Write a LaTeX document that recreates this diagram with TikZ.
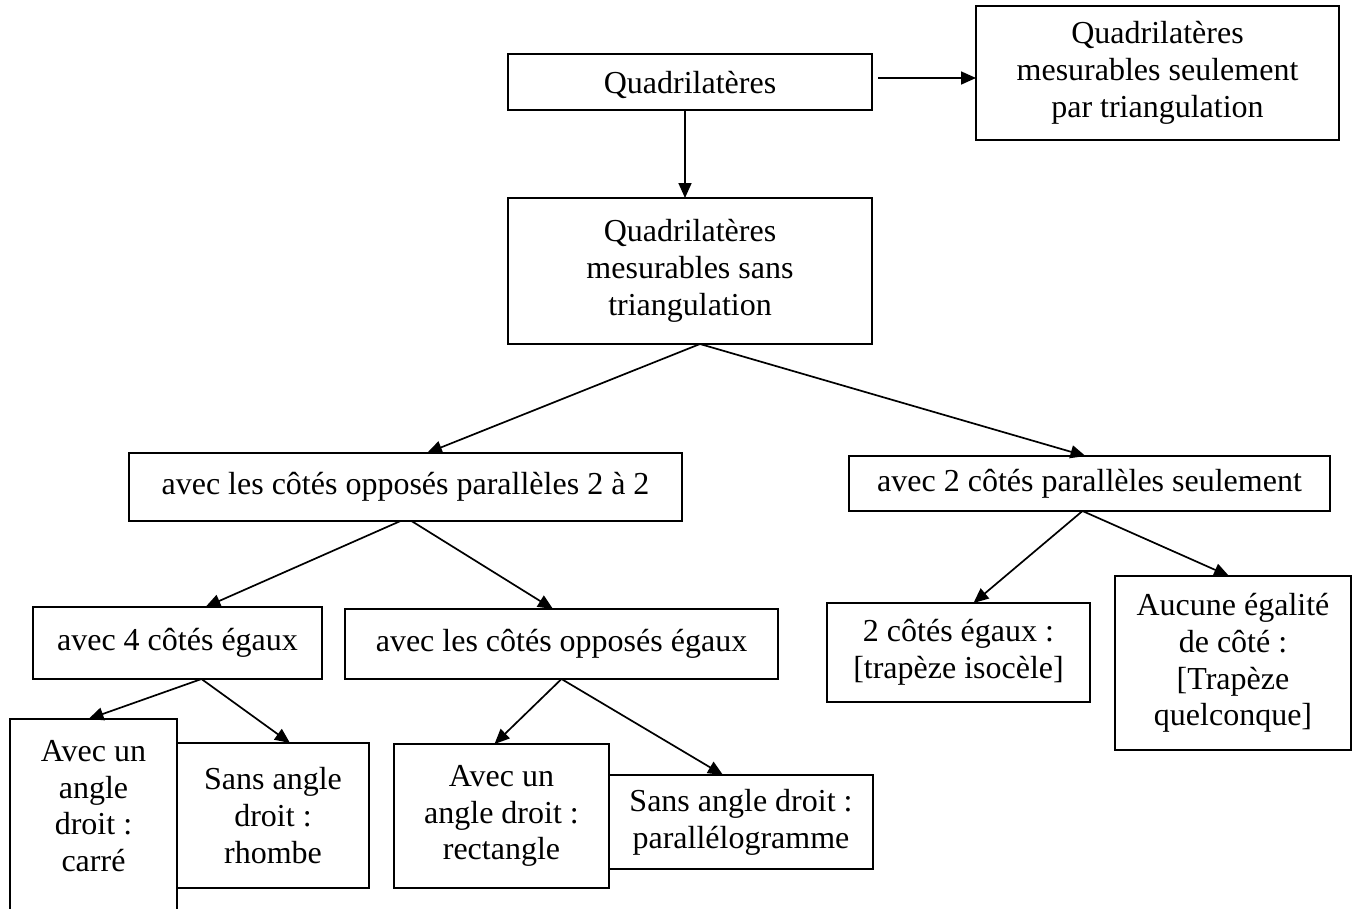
\documentclass[tikz,border=0pt]{standalone}
\usepackage{fontspec}
\setmainfont{Liberation Serif}
\usetikzlibrary{arrows.meta,calc}
\tikzset{
  box/.style={draw, line width=2pt, inner sep=0pt, outer sep=0pt, align=center,
    font=\fontsize{32}{36.8}\selectfont},
  txt/.style={inner sep=0pt, align=center, font=\fontsize{32}{36.8}\selectfont},
  arr/.style={line width=1.7pt, -{Triangle[length=15pt,width=13pt]}}
}
\begin{document}
\begin{tikzpicture}[x=1pt,y=-1pt]
\useasboundingbox (0,0) rectangle (1362,908);
\clip (0,0) rectangle (1362,908);
% boxes
\node[box, minimum width=364pt, minimum height=56pt, text height=30pt, text depth=7pt] (Q) at (690,82) {Quadrilatères};
\node[box, minimum width=363pt, minimum height=134pt] (QT) at (1157.5,73) {Quadrilatères\\mesurables seulement\\par triangulation};
\node[box, minimum width=364pt, minimum height=146pt] (QS) at (690,271) {Quadrilatères\\mesurables sans\\triangulation};
\node[box, minimum width=553pt, minimum height=68pt] (P22) at (405.5,487) {avec les côtés opposés parallèles 2 à 2};
\node[box, minimum width=481pt, minimum height=55pt] (P2S) at (1089.5,483.5) {avec 2 côtés parallèles seulement};
\node[box, minimum width=289pt, minimum height=72pt] (C4) at (177.5,643) {avec 4 côtés égaux};
\node[box, minimum width=433pt, minimum height=70pt] (COE) at (561.5,644) {avec les côtés opposés égaux};
\node[box, anchor=north west, minimum width=167pt, minimum height=240pt] (CARRE) at (10,719) {};
\node[txt] (CARRET) at (93.5,806) {Avec un\\angle\\droit :\\carré};
\node[box, minimum width=192pt, minimum height=145pt] (RH) at (273,815.5) {Sans angle\\droit :\\rhombe};
\node[box, minimum width=215pt, minimum height=144pt] (RECT) at (501.5,816) {Avec un\\angle droit :\\rectangle};
\node[box, minimum width=264pt, minimum height=94pt] (PARA) at (741,822) {Sans angle droit :\\parallélogramme};
\node[box, minimum width=263pt, minimum height=99pt] (TI) at (958.5,652.5) {2 côtés égaux :\\{[}trapèze isocèle{]}};
\node[box, minimum width=236pt, minimum height=174pt] (TQ) at (1233,663) {Aucune égalité\\de côté :\\{[}Trapèze\\quelconque{]}};
% connectors
\draw[arr] ($(Q.east)+(6,-4)$) -- ($(QT.west)+(0,5)$);
\draw[arr] ($(Q.south)+(-5,0)$) -- ($(QS.north)+(-5,0)$);
\draw[arr] ($(QS.south)+(10,0)$) -- ($(P22.north)+(21.5,0)$);
\draw[arr] ($(QS.south)+(10,0)$) -- ($(P2S.north)+(-4,0)$);
\draw[arr] ($(P22.south)+(-5,0)$) -- ($(C4.north)+(28,0)$);
\draw[arr] ($(P22.south)+(6,0)$) -- ($(COE.north)+(-8.5,0)$);
\draw[arr] ($(C4.south)+(24,0)$) -- ($(CARRE.north)+(-5,0)$);
\draw[arr] ($(C4.south)+(24,0)$) -- ($(RH.north)+(17,0)$);
\draw[arr] ($(COE.south)+(0,0)$) -- ($(RECT.north)+(-7,0)$);
\draw[arr] ($(COE.south)+(0,0)$) -- ($(PARA.north)+(-18,0)$);
\draw[arr] ($(P2S.south)+(-7,0)$) -- ($(TI.north)+(15,0)$);
\draw[arr] ($(P2S.south)+(-7,0)$) -- ($(TQ.north)+(-4,0)$);
\end{tikzpicture}
\end{document}
